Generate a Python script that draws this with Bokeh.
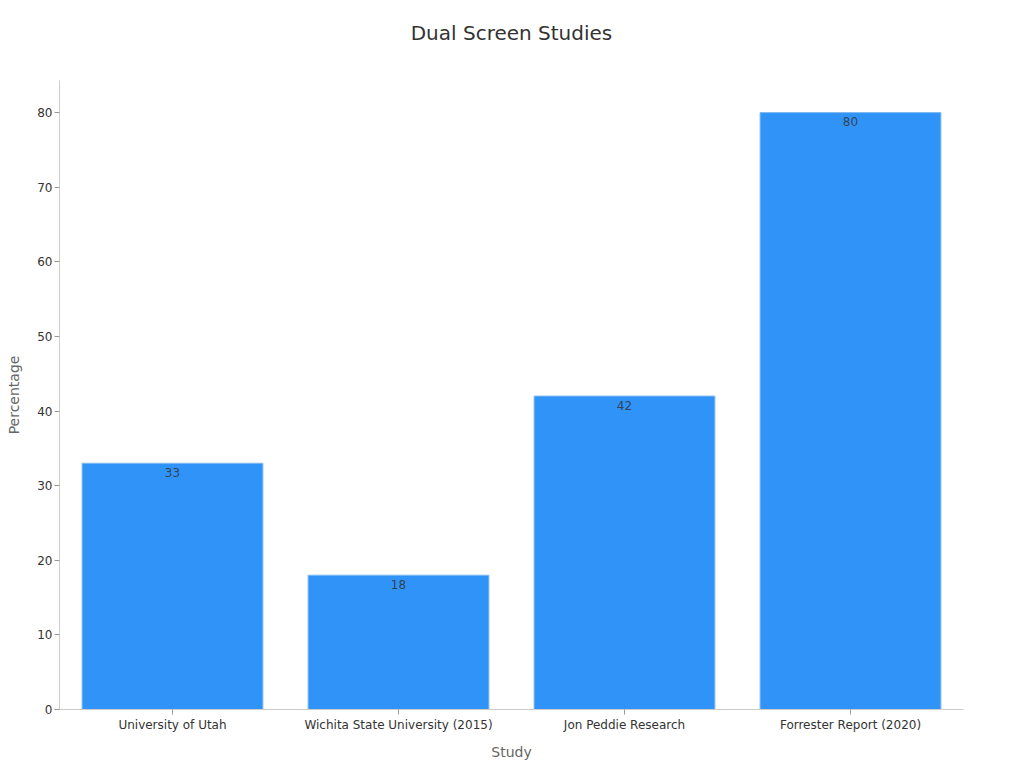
from bokeh.plotting import figure
from bokeh.models import ColumnDataSource, FactorRange, Range1d, FixedTicker, Title
from bokeh.embed import file_html
from bokeh.resources import INLINE
from bokeh.core.properties import value

studies = ["University of Utah", "Wichita State University (2015)", "Jon Peddie Research", "Forrester Report (2020)"]
percentages = [33, 18, 42, 80]
labels = [str(v) for v in percentages]
y_ticks = [0, 10, 20, 30, 40, 50, 60, 70, 80]

src = ColumnDataSource(dict(x=studies, y=percentages, lab=labels))

FONT = "DejaVu Sans"

p = figure(width=1008, height=762, x_range=FactorRange(*studies, range_padding=0),
           y_range=Range1d(0, 84.3), output_backend="svg", toolbar_location=None,
           title="Dual Screen Studies", min_border_left=59, min_border_right=45,
           min_border_bottom=52, min_border_top=10)
p.title.align = "center"
p.title.text_font = FONT
p.title.text_font_size = "20px"
p.title.text_font_style = "normal"
p.title.text_color = "#333333"
p.title.standoff = 36

spacer = Title(text=" ", text_font_size="14px", standoff=0)
p.add_layout(spacer, "above")

p.vbar(x="x", top="y", width=0.8, source=src, fill_color="#3093F8", line_color="#7fb8f0", line_width=1)
p.text(x="x", y="y", text="lab", source=src, text_align="center", text_baseline="middle",
       y_offset=9, text_font=value(FONT), text_font_size="12px", text_color="#333333", text_alpha=0.85)

p.xgrid.visible = False
p.ygrid.visible = False
p.outline_line_color = None

for ax in (p.xaxis, p.yaxis):
    ax.axis_line_color = "#cccccc"
    ax.major_tick_line_color = "#999999"
    ax.minor_tick_line_color = None
    ax.major_tick_in = 0
    ax.major_tick_out = 5
    ax.major_label_text_font = FONT
    ax.major_label_text_font_size = "12px"
    ax.major_label_text_color = "#333333"
    ax.axis_label_text_font = FONT
    ax.axis_label_text_font_size = "14px"
    ax.axis_label_text_font_style = "normal"
    ax.axis_label_text_color = "#666666"

p.yaxis.ticker = FixedTicker(ticks=y_ticks)
p.yaxis.axis_label = "Percentage"
p.xaxis.axis_label = "Study"
p.yaxis.axis_label_standoff = 12
p.yaxis.major_label_standoff = 2
p.xaxis.axis_label_standoff = 9
p.xaxis.major_label_standoff = 3

open("out.html", "w").write(file_html(p, INLINE))
